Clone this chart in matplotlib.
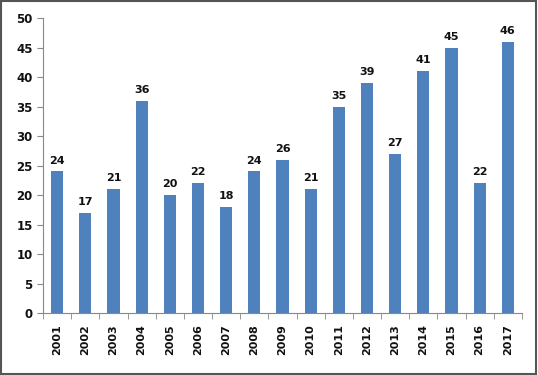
import matplotlib.pyplot as plt
from matplotlib.patches import Rectangle

# data
years = [str(y) for y in range(2001, 2018)]
counts = [24, 17, 21, 36, 20, 22, 18, 24, 26, 21, 35, 39, 27, 41, 45, 22, 46]

fig = plt.figure(figsize=(5.38, 3.75), dpi=100)
ax = fig.add_axes([0.080, 0.165, 0.890, 0.787])

x = range(len(years))
bars = ax.bar(x, counts, width=0.43, color='#4F81BD')

for b, v in zip(bars, counts):
    ax.text(b.get_x() + b.get_width() / 2, v + 1.0, str(v), ha='center', va='bottom',
            fontsize=8, color='#111111', fontweight='semibold')

ax.set_xlim(-0.5, len(years) - 0.5)
ax.set_ylim(0, 50)
ax.set_yticks(range(0, 51, 5))
ax.tick_params(axis='y', labelsize=8.5, colors='#111111', length=4, color='#888888')
for t in ax.get_yticklabels():
    t.set_fontweight('semibold')
ax.set_xticks(x)
ax.set_xticklabels(years, rotation=90, fontsize=8, color='#111111', fontweight='semibold')
# tick marks between categories
ax.set_xticks([i - 0.5 for i in range(len(years) + 1)], minor=True)
ax.tick_params(axis='x', which='major', length=0, pad=8)
ax.tick_params(axis='x', which='minor', length=4, color='#888888')

for s in ['top', 'right']:
    ax.spines[s].set_visible(False)
ax.spines['left'].set_color('#888888')
ax.spines['bottom'].set_color('#888888')

fig.patches.append(Rectangle((0.002, 0.003), 0.995, 0.994, transform=fig.transFigure,
                             fill=False, edgecolor='#555555', linewidth=1.5))

fig.savefig('out.png', dpi=100)
